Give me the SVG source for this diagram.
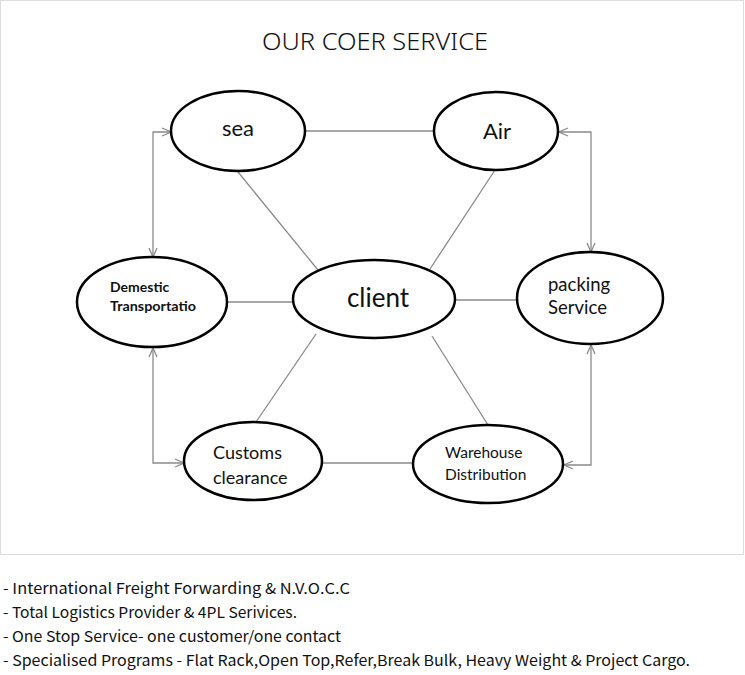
<svg xmlns="http://www.w3.org/2000/svg" width="745" height="675" viewBox="0 0 745 675">
<style>
.node{fill:#fff;stroke:#000;stroke-width:2.5}
.lbl{font-family:Lato,"Open Sans","Liberation Sans",sans-serif;fill:#111}
.con{stroke:#8a8a8a;stroke-width:1.3;fill:none}
.bul{font-family:"Noto Sans CJK KR","Liberation Sans",sans-serif;font-size:15px;fill:#111}
</style>
<defs>
<marker id="arr" viewBox="0 0 10 10" refX="10" refY="5" markerWidth="10" markerHeight="10" markerUnits="userSpaceOnUse" orient="auto-start-reverse">
<path d="M1,1 L10,5 L1,9" fill="none" stroke="#8a8a8a" stroke-width="1.3"/>
</marker>
</defs>
<rect x="0.5" y="0.5" width="743" height="554" fill="#fff" stroke="#dcdcdc"/>
<text x="375" y="50" text-anchor="middle" class="lbl" font-size="24" textLength="226" lengthAdjust="spacingAndGlyphs" style="font-family:'Noto Sans','Open Sans',sans-serif;font-weight:300">OUR COER SERVICE</text>
<g id="connectors">
<line class="con" x1="305" y1="131" x2="435" y2="131"/>
<line class="con" x1="238" y1="172" x2="318" y2="270"/>
<line class="con" x1="495" y1="170" x2="430" y2="269"/>
<line class="con" x1="227" y1="302" x2="293" y2="302"/>
<line class="con" x1="455" y1="300" x2="517" y2="300"/>
<line class="con" x1="316" y1="334" x2="256" y2="422"/>
<line class="con" x1="432" y1="336" x2="488" y2="425"/>
<line class="con" x1="323" y1="463" x2="413" y2="463"/>
<polyline class="con" points="171,132 153,132 153,257" marker-start="url(#arr)" marker-end="url(#arr)"/>
<polyline class="con" points="153,348 153,463 184,463" marker-start="url(#arr)" marker-end="url(#arr)"/>
<polyline class="con" points="559,132 591,132 591,252" marker-start="url(#arr)" marker-end="url(#arr)"/>
<polyline class="con" points="591,345 591,465 564,465" marker-start="url(#arr)" marker-end="url(#arr)"/>
</g>
<g id="sea"><ellipse class="node" cx="238" cy="131" rx="67" ry="40"/><text class="lbl" x="238" y="136" text-anchor="middle" font-size="22">sea</text></g>
<g id="air"><ellipse class="node" cx="496" cy="131" rx="62" ry="39"/><text class="lbl" x="497" y="139" text-anchor="middle" font-size="22">Air</text></g>
<g id="demestic"><ellipse class="node" cx="152" cy="302" rx="75" ry="45"/><text class="lbl" x="110" y="292" font-size="14" font-weight="bold">Demestic</text><text class="lbl" x="110" y="311" font-size="14" font-weight="bold" textLength="86" lengthAdjust="spacingAndGlyphs">Transportatio</text></g>
<g id="client"><ellipse class="node" cx="374" cy="299" rx="81" ry="39"/><text class="lbl" x="378" y="307" text-anchor="middle" font-size="26">client</text></g>
<g id="packing"><ellipse class="node" cx="590" cy="298" rx="73" ry="46"/><text class="lbl" x="548" y="291" font-size="18.5">packing</text><text class="lbl" x="548" y="314" font-size="18.5">Service</text></g>
<g id="customs"><ellipse class="node" cx="253" cy="461" rx="69" ry="39"/><text class="lbl" x="213" y="459" font-size="18">Customs</text><text class="lbl" x="213" y="484" font-size="18">clearance</text></g>
<g id="warehouse"><ellipse class="node" cx="488" cy="464" rx="75" ry="39"/><text class="lbl" x="445" y="458" font-size="15.5">Warehouse</text><text class="lbl" x="445" y="480" font-size="15.5">Distribution</text></g>
<text class="bul" x="3" y="594" textLength="347" lengthAdjust="spacingAndGlyphs">- International Freight Forwarding &amp; N.V.O.C.C</text>
<text class="bul" x="3" y="618" textLength="294" lengthAdjust="spacingAndGlyphs">- Total Logistics Provider &amp; 4PL Serivices.</text>
<text class="bul" x="3" y="642" textLength="338" lengthAdjust="spacingAndGlyphs">- One Stop Service- one customer/one contact</text>
<text class="bul" x="3" y="666" textLength="687" lengthAdjust="spacingAndGlyphs">- Specialised Programs - Flat Rack,Open Top,Refer,Break Bulk, Heavy Weight &amp; Project Cargo.</text>
</svg>
